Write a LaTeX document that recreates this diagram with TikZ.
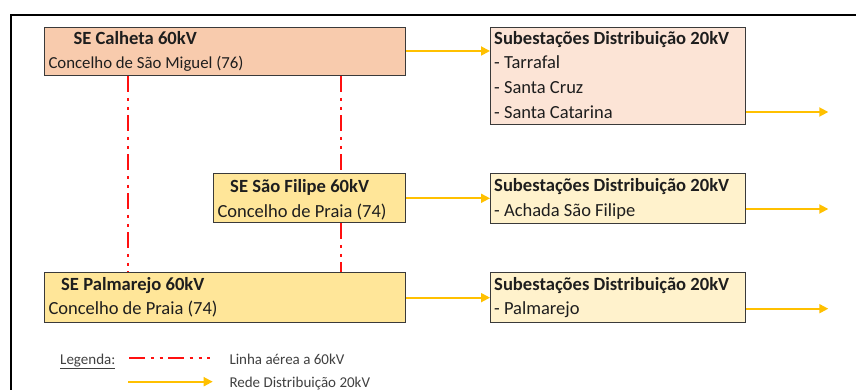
\documentclass[tikz,border=0pt]{standalone}
\usepackage{fontspec}
\setmainfont{Carlito}
\usetikzlibrary{arrows.meta}

\definecolor{calfill}{HTML}{F8CBAD}
\definecolor{goldfill}{HTML}{FFE699}
\definecolor{peachlight}{HTML}{FCE4D6}
\definecolor{goldlight}{HTML}{FFF2CC}
\definecolor{boxline}{HTML}{3A3A3A}
\definecolor{ink}{HTML}{1E1E1E}
\definecolor{legink}{HTML}{404040}
\definecolor{feedline}{HTML}{FFC000}
\definecolor{red60}{HTML}{FF1010}

\begin{document}
\begin{tikzpicture}[x=1pt,y=-1pt,
  box/.style={draw=boxline, line width=1pt, inner sep=0pt, anchor=north west},
  ttl/.style={anchor=base west, inner sep=0pt, font=\fontsize{18.6}{21}\selectfont\bfseries, text=ink},
  txt/.style={anchor=base west, inner sep=0pt, font=\fontsize{18.5}{21}\selectfont, text=ink},
  leg/.style={anchor=base west, inner sep=0pt, font=\fontsize{15}{17}\selectfont, text=legink},
  feed/.style={draw=feedline, line width=1.8pt, -{Triangle[length=9pt,width=9pt]}},
  hv60/.style={draw=red60, line width=2pt,
    dash pattern=on 16pt off 5.5pt on 3.5pt off 5.5pt on 3.5pt off 5pt}]
\useasboundingbox (0,0) rectangle (856,390);

% outer frame
\draw[line width=2pt, line join=miter] (10.5,395) -- (10.5,15.3) -- (860,15.3);

% 60 kV substations
\node[box, fill=calfill, minimum width=361.3pt, minimum height=48.6pt] (cal) at (43.7,26.7) {};
\node[box, fill=goldfill, minimum width=191.7pt, minimum height=49pt] (sf) at (213.3,173.3) {};
\node[box, fill=goldfill, minimum width=361.3pt, minimum height=49.7pt] (pal) at (43.7,272.3) {};

\node[ttl] (cal-t) at (73.3,45) {SE Calheta 60kV};
\node[txt, font=\fontsize{16.8}{20}\selectfont] (cal-s) at (48.3,68.3) {Concelho de São Miguel (76)};
\node[ttl] (sf-t) at (230,192.3) {SE São Filipe 60kV};
\node[txt] (sf-s) at (217.3,217.3) {Concelho de Praia (74)};
\node[ttl] (pal-t) at (61,290.7) {SE Palmarejo 60kV};
\node[txt] (pal-s) at (48.3,314.3) {Concelho de Praia (74)};

% 20 kV distribution substations
\node[box, fill=peachlight, minimum width=255pt, minimum height=97.3pt] (sub1) at (490,26.7) {};
\node[box, fill=goldlight, minimum width=255pt, minimum height=49.4pt] (sub2) at (490,173.3) {};
\node[box, fill=goldlight, minimum width=255pt, minimum height=50pt] (sub3) at (490,272.3) {};

\node[ttl] (sub1-t) at (494,44.3) {Subestações Distribuição 20kV};
\node[txt] (sub1-a) at (494,69) {- Tarrafal};
\node[txt] (sub1-b) at (494,94) {- Santa Cruz};
\node[txt] (sub1-c) at (494,119) {- Santa Catarina};
\node[ttl] (sub2-t) at (494,191.7) {Subestações Distribuição 20kV};
\node[txt] (sub2-a) at (494,216.7) {- Achada São Filipe};
\node[ttl] (sub3-t) at (494,290.7) {Subestações Distribuição 20kV};
\node[txt] (sub3-a) at (494,314.3) {- Palmarejo};

% 60 kV overhead lines
\draw[hv60] ([xshift=84.6pt]cal.south west) -- ([xshift=84.6pt]pal.north west);
\draw[hv60] ([xshift=297.3pt]cal.south west) -- ([xshift=127.7pt]sf.north west);
\draw[hv60] ([xshift=127.7pt]sf.south west) -- ([xshift=297.3pt]pal.north west);

% 20 kV feeders
\draw[feed] ([yshift=0.5pt]cal.east) -- ([yshift=0.5pt]cal.east -| sub1.west);
\draw[feed] (sf.east) -- (sf.east -| sub2.west);
\draw[feed] (pal.east) -- (pal.east -| sub3.west);

\coordinate (out1) at (828.3,112);
\coordinate (out2) at (828.3,209);
\coordinate (out3) at (828.3,308.7);
\draw[feed] (sub1.east |- out1) -- (out1);
\draw[feed] (sub2.east |- out2) -- (out2);
\draw[feed] (sub3.east |- out3) -- (out3);

% legend
\node[leg] (leg-t) at (60,364) {\underline{Legenda:}};
\coordinate (lgA) at (129,358.3);
\coordinate (lgB) at (210,358.3);
\draw[hv60] (lgA) -- (lgB);
\node[leg] (leg-a) at (229.3,364) {Linha aérea a 60kV};
\coordinate (lgC) at (128.3,381.7);
\coordinate (lgD) at (212.7,381.7);
\draw[feed] (lgC) -- (lgD);
\node[leg] (leg-b) at (229.3,387.5) {Rede Distribuição 20kV};
\end{tikzpicture}
\end{document}
